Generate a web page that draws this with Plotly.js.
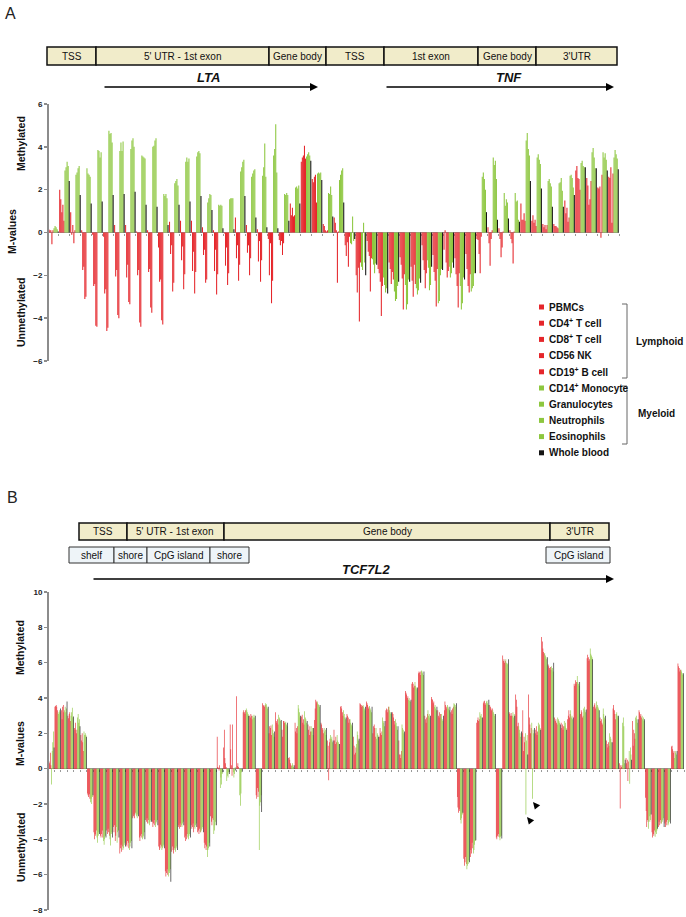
<!DOCTYPE html>
<html><head><meta charset="utf-8">
<script src="https://cdn.plot.ly/plotly-3.0.1.min.js"></script>
<style>html,body{margin:0;padding:0;background:#fff}#chart{width:686px;height:917px}</style>
</head><body><div id="chart"></div>
<script>
// ---------- DATA ----------
const cellTypes = ['PBMCs','CD4<sup>+</sup> T cell','CD8<sup>+</sup> T cell','CD56 NK','CD19<sup>+</sup> B cell',
  'CD14<sup>+</sup> Monocyte','Granulocytes','Neutrophils','Eosinophils','Whole blood'];
const lineage = ['L','L','L','L','L','M','M','M','M','W'];
const groupLabels = ['Lymphoid','Myeloid'];

// Panel A: LTA / TNF CpG sites, one row per site, columns in cellTypes order
const ltaSites = [
 [0.15,0.1,0.1,-0.55,0.1,0.2,0.3,0.25,0.15,0.05],
 [2.0,1.55,0.95,1.3,0.55,2.9,3.05,3.3,3.1,2.4],
 [0.95,-0.1,0.35,-0.5,0.1,2.7,2.8,3.0,3.1,1.75],
 [0.1,-1.75,-1.6,-3.1,-3.0,3.0,2.75,2.7,2.6,1.35],
 [-0.1,-2.5,-2.4,-4.35,-4.4,3.85,3.8,3.5,3.75,1.45],
 [-0.2,-2.85,-2.65,-4.6,-4.45,4.75,4.6,4.65,4.2,1.75],
 [0.35,-2.05,-1.75,-3.85,-4.0,3.8,4.2,3.8,4.25,1.8],
 [0.35,-2.1,-1.5,-3.25,-3.35,3.9,4.3,4.4,4.0,1.9],
 [0.05,-2.0,-1.75,-4.2,-4.4,3.6,3.55,3.5,3.45,1.3],
 [0.1,-1.85,-1.7,-3.5,-3.75,4.0,4.05,4.3,4.4,1.2],
 [-0.7,-2.3,-2.2,-4.1,-4.3,1.8,1.7,1.8,1.6,0.35],
 [0.5,-1.0,-0.6,-2.75,-2.35,2.3,2.4,2.5,2.2,1.3],
 [0.55,-1.3,-0.65,-2.65,-1.95,3.3,3.5,3.3,3.45,1.45],
 [0.55,-1.8,-0.9,-2.85,-1.85,3.55,3.75,3.8,3.7,1.7],
 [0.25,-1.05,-0.8,-2.35,-2.2,1.4,1.6,1.8,1.75,1.05],
 [0.1,-1.8,-0.8,-2.9,-1.95,1.3,1.25,1.3,1.25,0.2],
 [-0.05,-1.55,-0.7,-2.45,-1.9,1.55,1.6,1.6,1.6,0.15],
 [0.7,-1.2,-0.6,-2.25,-1.5,2.85,3.05,3.3,3.4,1.7],
 [0.35,-0.95,-0.6,-2.0,-1.2,2.6,2.75,2.9,2.95,0.7],
 [0.15,-1.35,-0.4,-2.3,-1.3,2.65,3.05,4.15,2.6,0.25],
 [-0.3,-2.0,-0.5,-3.3,-2.25,3.6,3.9,5.05,2.8,0.2],
 [-0.35,-0.6,-0.4,-1.05,-0.5,1.8,1.75,1.85,1.75,0.55],
 [1.35,0.8,1.15,0.75,0.8,2.1,2.15,2.05,2.2,1.35],
 [3.3,3.5,3.6,4.05,3.45,3.55,3.65,3.75,3.6,3.35],
 [2.5,2.35,2.6,2.7,1.4,2.75,2.8,2.75,2.8,2.45],
 [0.4,0.3,0.1,0.05,0.1,1.85,1.8,2.15,1.75,0.75]
];
const tnfSites = [
 [0.7,0.45,0.1,-2.35,0.05,2.45,2.7,2.9,3.0,1.4],
 [-0.6,-1.1,-0.45,-1.6,-0.2,-0.5,-0.55,0.75,-0.4,-0.3],
 [-2.0,-2.8,-1.65,-4.15,-1.4,-1.6,-1.75,0.45,-1.4,-2.0],
 [-0.4,-0.9,-1.1,-2.75,-1.2,-1.25,-1.5,-1.9,-1.45,-1.5],
 [-1.7,-1.9,-2.3,-3.9,-2.5,-2.1,-2.45,-2.8,-2.6,-2.85],
 [-1.4,-1.7,-2.4,-1.85,-2.2,-2.75,-3.2,-3.1,-2.5,-2.3],
 [-1.15,-1.5,-2.15,-3.6,-1.95,-2.45,-3.6,-3.35,-2.2,-2.3],
 [-1.6,-2.25,-3.0,-1.5,-2.4,-2.6,-2.9,-2.7,-2.15,-2.35],
 [-0.6,-1.3,-1.75,-2.6,-1.9,-1.3,-1.65,-2.7,-2.45,-1.6],
 [-1.05,-1.85,-2.25,-3.45,-1.7,-3.3,-3.2,-2.0,-1.7,-1.75],
 [-0.8,0.1,-1.4,-2.1,-1.8,-1.6,-2.1,-1.9,-1.4,-1.65],
 [-1.2,-1.95,-2.5,-3.5,-1.9,-2.5,-3.6,-3.3,-2.1,-2.2],
 [-1.0,-1.7,-2.5,-2.8,-1.95,-2.75,-2.6,-2.5,-1.9,-1.9],
 [-0.3,-0.35,-1.0,-1.9,-0.2,2.6,2.8,2.5,2.0,0.95],
 [0.25,-0.5,-1.55,-0.3,0.1,3.5,3.15,3.35,2.5,0.6],
 [0.2,-0.3,-1.15,-0.7,0.05,1.85,1.25,1.55,1.4,0.65],
 [0.1,-0.3,-0.5,-1.45,0.05,1.85,1.45,1.5,0.6,0.5],
 [1.35,0.6,0.6,0.9,0.55,4.3,4.65,3.9,3.6,2.4],
 [0.55,0.8,0.45,0.6,0.3,3.5,3.65,3.4,3.2,2.05],
 [0.4,0.25,0.35,0.15,0.35,2.4,2.5,2.3,2.15,1.2],
 [0.4,0.3,0.3,0.25,0.2,2.3,2.35,2.55,1.95,1.2],
 [1.5,0.9,1.15,0.5,0.7,2.65,2.7,2.55,2.1,1.75],
 [2.9,3.1,2.55,2.5,2.0,3.25,3.35,3.1,3.05,3.05],
 [2.55,2.2,1.3,1.55,2.4,3.75,3.95,3.5,3.0,3.0],
 [2.1,2.05,2.15,-0.25,2.7,3.75,3.5,3.7,3.4,2.9],
 [2.6,2.55,3.05,0.45,2.75,3.5,3.85,3.65,3.45,2.95]
];

// Panel B: TCF7L2 CpG sites
const tcfPromoter = [
 [1.15,0.4,0.3,0.9,0.2,-0.9,1.0,1.5,2.1,1.2],
 [3.5,3.55,3.6,3.5,3.3,3.2,3.1,3.3,3.2,3.4],
 [3.3,2.8,3.5,3.6,3.2,3.3,3.5,3.2,3.4,3.8],
 [3.0,2.85,3.1,3.2,2.7,3.0,3.2,3.45,2.9,2.95],
 [2.3,2.2,2.6,2.0,2.2,2.9,3.1,2.6,2.8,2.4],
 [1.9,1.6,2.0,1.5,1.0,2.1,1.9,2.0,1.9,1.8],
 [-1.4,-1.5,-1.6,-1.45,-1.7,-1.9,-1.7,-2.0,-1.6,-1.5],
 [-3.6,-4.0,-3.7,-3.8,-3.5,-3.9,-4.2,-3.8,-3.6,-3.7],
 [-3.8,-3.9,-3.7,-3.5,-3.9,-4.1,-4.3,-4.0,-3.8,-3.9],
 [-3.5,-3.7,-3.4,-3.6,-3.8,-4.0,-4.35,-3.7,-3.6,-3.9],
 [-3.3,-3.6,-3.2,-4.1,-3.8,-3.3,-4.2,-3.6,-3.5,-3.9],
 [-4.8,-4.5,-4.3,-4.7,-4.4,-4.6,-4.5,-4.3,-4.2,-4.4],
 [-4.3,-4.4,-4.1,-4.2,-4.5,-4.6,-4.4,-4.2,-4.1,-4.5],
 [-2.8,-2.7,-2.6,-2.8,-2.5,-2.6,-2.7,-2.8,-2.6,-2.7],
 [-3.9,-4.1,-3.8,-3.9,-3.7,-4.0,-3.9,-3.8,-3.6,-4.0],
 [-2.9,-3.0,-2.8,-3.1,-2.9,-3.1,-3.2,-3.0,-2.9,-3.0],
 [-3.0,-3.3,-3.1,-2.9,-3.2,-3.3,-3.1,-3.0,-2.9,-3.2],
 [-4.4,-4.6,-4.5,-4.3,-4.4,-4.6,-4.5,-4.4,-4.3,-4.5],
 [-5.8,-6.1,-5.9,-5.7,-6.0,-6.1,-5.8,-5.9,-5.7,-6.4],
 [-4.7,-4.4,-4.6,-4.8,-4.5,-4.6,-4.7,-4.5,-4.4,-4.6],
 [-3.3,-3.2,-3.4,-3.1,-3.3,-3.2,-3.3,-3.1,-3.0,-3.2],
 [-3.9,-4.1,-3.8,-4.0,-3.7,-3.9,-4.0,-3.8,-3.7,-3.9],
 [-3.2,-3.4,-3.3,-3.1,-3.6,-3.3,-3.4,-3.2,-3.1,-3.3],
 [-3.6,-3.5,-3.7,-3.4,-3.6,-3.6,-3.5,-3.4,-3.3,-3.6],
 [-4.2,-4.5,-4.3,-4.6,-4.4,-5.0,-4.6,-4.5,-4.2,-4.4],
 [-2.7,-3.0,-3.2,-2.8,-2.9,-3.7,-3.5,-3.2,-3.0,-3.2],
 [1.8,0.1,0.05,-0.1,0.2,-1.1,-0.5,-0.9,-0.3,-0.2],
 [1.2,2.2,0.6,0.3,0.1,-0.7,-0.4,-0.5,-0.2,-0.3],
 [2.5,1.1,0.2,-0.4,2.5,-0.2,-0.5,-0.3,0.1,-0.1],
 [4.1,0.15,0.3,0.1,0.0,-1.5,-2.1,-1.4,-0.2,-0.1],
 [3.2,3.3,3.2,3.1,3.3,3.4,3.3,3.2,3.1,3.0],
 [3.0,2.9,3.1,3.0,2.8,3.0,2.9,3.05,2.9,3.0],
 [-1.5,-1.7,-1.1,-1.6,-1.3,-4.6,-2.1,-1.9,-1.5,-2.45]
];
const tcfBody = [
 [3.7,3.6,3.55,3.5,3.6,3.7,3.65,3.5,3.4,3.5],
 [2.0,2.4,2.3,2.45,1.9,2.5,2.2,2.0,1.8,2.1],
 [3.2,2.7,2.6,2.8,2.5,3.05,2.9,2.8,2.7,2.75],
 [2.2,1.8,2.7,2.7,2.6,2.6,2.65,2.5,2.4,2.6],
 [0.6,0.65,0.5,0.3,0.2,0.15,0.3,0.2,0.1,0.2],
 [2.6,2.1,2.3,2.0,2.4,3.6,3.4,3.2,2.9,3.0],
 [2.95,3.05,2.6,2.8,2.5,3.25,2.9,2.8,2.6,2.7],
 [2.5,2.2,1.9,2.4,2.1,2.4,2.1,2.3,1.9,2.3],
 [2.75,3.4,3.9,3.8,3.7,3.8,3.65,3.6,3.5,3.6],
 [2.6,2.5,2.3,2.2,2.0,2.3,2.1,2.2,1.9,2.3],
 [1.6,1.3,-0.65,1.5,1.7,1.9,1.7,1.8,1.5,1.6],
 [2.2,1.6,1.4,1.8,1.5,1.9,1.6,1.5,1.4,1.4],
 [3.5,3.55,3.4,3.2,3.0,3.3,3.1,2.9,2.8,2.9],
 [3.1,3.0,2.9,2.6,2.8,2.8,2.6,2.5,2.4,2.6],
 [1.8,1.3,0.8,0.9,1.2,1.4,2.1,1.9,1.6,1.7],
 [3.7,3.65,3.6,3.5,3.55,3.6,3.5,3.4,3.3,3.5],
 [3.8,3.7,3.6,3.4,3.5,3.55,3.4,3.3,3.2,3.5],
 [2.0,2.4,2.5,2.3,1.8,2.3,1.7,2.0,1.9,1.8],
 [1.8,2.3,2.0,1.9,2.1,2.9,2.7,2.6,2.4,2.7],
 [3.3,3.4,3.35,3.2,3.5,3.5,3.3,3.2,3.1,3.2],
 [3.2,3.1,2.9,2.7,2.5,2.8,2.6,2.4,2.2,2.4],
 [1.6,0.8,0.8,0.6,1.0,2.5,2.3,2.2,2.0,2.1],
 [4.4,4.3,4.2,4.0,4.1,3.9,4.0,3.85,3.8,3.9],
 [4.8,4.9,4.8,4.6,4.7,4.9,4.7,4.6,4.5,4.6],
 [5.4,5.5,5.45,5.3,5.5,5.55,5.5,5.4,5.3,5.5],
 [3.0,2.8,2.6,2.9,3.1,3.3,3.0,3.1,2.9,3.0],
 [4.05,3.95,3.9,3.7,3.8,3.5,3.6,3.4,3.3,3.5],
 [3.3,3.0,2.9,3.2,3.1,2.9,3.1,2.8,2.7,3.0],
 [3.3,3.8,3.6,3.5,3.4,3.6,3.5,3.4,3.3,3.5],
 [3.2,3.3,3.1,3.4,3.5,3.7,3.65,3.6,3.5,3.7],
 [-1.6,-2.2,-2.5,-2.3,-2.4,-2.9,-3.1,-2.8,-2.6,-2.5],
 [-5.1,-5.5,-5.3,-5.0,-5.4,-5.7,-5.5,-5.4,-5.2,-5.3]
];
const tcfEnd = [
 [-5.0,-4.6,-4.8,-4.2,-4.5,-4.8,-4.6,-4.3,-4.1,-4.05],
 [2.6,2.75,2.9,2.7,2.8,3.2,3.0,3.1,2.9,2.9],
 [3.7,3.8,3.85,3.6,3.7,3.8,3.85,3.7,3.6,3.9],
 [3.6,3.5,3.4,3.3,3.4,3.3,3.2,3.1,3.0,3.1],
 [-3.9,-4.0,-3.8,-3.85,-3.7,-3.9,-4.05,-3.85,-3.8,-3.95],
 [6.4,6.1,6.2,6.0,6.1,6.2,6.0,5.9,5.95,6.2],
 [3.2,3.1,3.0,3.15,3.0,3.0,3.2,2.9,3.1,3.0],
 [4.2,3.9,3.5,2.4,2.6,2.4,2.2,2.0,1.8,2.1],
 [2.0,3.3,1.0,1.8,1.5,2.0,-2.6,1.6,1.9,0.8],
 [4.2,2.9,2.5,2.0,2.3,2.6,-1.7,2.2,2.0,2.3],
 [2.2,2.0,2.4,1.9,2.1,2.6,2.4,2.5,2.3,2.2],
 [7.45,7.2,6.8,6.6,6.5,6.55,6.4,6.3,6.2,6.3],
 [5.9,5.8,5.7,5.6,5.75,5.8,5.6,5.7,5.5,6.0],
 [2.9,2.7,2.8,2.6,2.5,2.9,2.8,2.7,2.6,2.5],
 [2.6,2.3,2.5,2.2,2.4,2.7,2.4,2.6,2.3,2.2],
 [2.8,3.0,3.3,2.9,3.1,3.3,2.9,3.0,2.8,2.9],
 [4.8,4.7,5.0,4.8,4.9,5.25,4.9,4.8,4.7,4.9],
 [3.1,3.3,3.2,2.9,3.0,3.4,3.5,3.3,3.2,3.35],
 [6.25,6.45,6.3,6.1,6.2,6.8,6.5,6.4,6.3,6.2],
 [3.5,3.6,3.7,3.4,3.5,3.8,3.6,3.5,3.4,3.3],
 [2.9,2.7,2.8,2.6,2.5,3.4,3.1,2.9,2.8,3.0],
 [1.6,1.4,1.2,1.5,1.3,2.0,1.8,1.7,1.5,1.5],
 [3.4,3.6,3.3,3.1,2.8,3.1,3.2,3.0,2.9,3.0],
 [0.3,-2.25,0.2,0.1,0.2,2.6,2.9,2.4,0.3,0.5],
 [0.6,0.3,0.5,-0.7,0.4,1.0,-0.85,1.2,0.8,0.5],
 [2.7,1.3,2.2,2.0,1.7,2.9,3.0,2.8,2.6,2.8],
 [3.3,3.2,3.0,3.1,2.9,3.0,2.8,2.9,2.7,2.8],
 [-1.65,-2.4,-3.3,-2.9,-3.0,-3.4,-2.7,-3.0,-2.9,-2.6],
 [-3.6,-3.9,-3.7,-3.8,-3.5,-3.85,-3.6,-3.7,-3.5,-3.4],
 [-3.3,-3.0,-3.2,-2.9,-3.1,-3.1,-3.0,-2.9,-2.8,-3.3],
 [-3.1,-3.3,-3.0,-3.2,-2.9,-3.2,-3.1,-3.0,-2.9,-3.1],
 [1.25,1.3,1.1,0.9,1.0,0.6,1.0,0.9,0.8,1.0],
 [5.95,5.8,5.7,5.5,5.6,5.6,5.5,5.4,5.3,5.4]
];

const yTicksA = [-6,-4,-2,0,2,4,6];
const yTicksB = [-8,-6,-4,-2,0,2,4,6,8,10];
const regionsA = ['TSS',"5' UTR - 1st exon",'Gene body','TSS','1st exon','Gene body',"3'UTR"];
const regionsB = ['TSS',"5' UTR - 1st exon",'Gene body',"3'UTR"];
const cpgB = ['shelf','shore','CpG island','shore','CpG island'];
const genesA = ['LTA','TNF'];
const geneB = 'TCF7L2';

// ---------- LAYOUT / STYLE ----------
const W = 686, H = 917;
const px = x => x / W, py = y => 1 - y / H;
const COL = {L:'#e5262b', M:'#8dc73f', W:'#141414'};
const FONT = 'Liberation Sans, Arial, sans-serif';
const NARROW = 'Liberation Sans Narrow, Liberation Sans, Arial, sans-serif';

const siteA = ltaSites.concat(tnfSites);
const siteB = tcfPromoter.concat(tcfBody, tcfEnd);

const traces = [];
cellTypes.forEach((name, i) => {
  traces.push({type:'bar', name, x: siteA.map((_, k) => k), y: siteA.map(r => r[i]),
    xaxis:'x', yaxis:'y', showlegend:false, hoverinfo:'skip',
    marker:{color: COL[lineage[i]], line:{width:0}}});
});
cellTypes.forEach((name, i) => {
  traces.push({type:'bar', name, x: siteB.map((_, k) => k), y: siteB.map(r => r[i]),
    xaxis:'x2', yaxis:'y2', showlegend:false, hoverinfo:'skip',
    marker:{color: COL[lineage[i]], line:{width:0}}});
});

const yDomA = [py(361), py(104)], yDomB = [py(910), py(592)];
const rangeA = [-6, 6], rangeB = [-8, 10];
const zeroPos = (d, r) => d[0] + (0 - r[0]) / (r[1] - r[0]) * (d[1] - d[0]);

const axisGrey = '#8c8c8c';
const yAxisCommon = {showline:true, linecolor:axisGrey, linewidth:2, ticks:'outside', ticklen:3,
  tickwidth:1.5, tickcolor:axisGrey, showgrid:false, zeroline:true, zerolinecolor:'#9a9a9a',
  zerolinewidth:1.5, tickfont:{family:FONT, size:8, weight:'bold', color:'#222'}, fixedrange:true};
const xAxisCommon = {showgrid:false, zeroline:false, showline:false, ticks:'outside', ticklen:2,
  tickwidth:1, tickcolor:'#9a9a9a', showticklabels:false, tick0:-0.5, dtick:1,
  layer:'below traces', anchor:'free', fixedrange:true};

const shapes = [], annotations = [];
const label = (text, x, y, opt={}) => annotations.push(Object.assign({xref:'paper', yref:'paper',
  x:px(x), y:py(y), text, showarrow:false, xanchor:'center', yanchor:'middle',
  font:{family:FONT, size:10, color:'#111'}}, opt));
const rect = (x0, x1, y0, y1, fill, lc, lw) => shapes.push({type:'rect', xref:'paper', yref:'paper',
  x0:px(x0), x1:px(x1), y0:py(y1), y1:py(y0), fillcolor:fill, line:{color:lc, width:lw}});

// panel letters
label('A', 10, 13, {font:{family:FONT, size:16, color:'#222'}});
label('B', 12, 497, {font:{family:FONT, size:16, color:'#222'}});

// Panel A region boxes
const bA = [47, 96, 269, 326, 384, 478, 536, 617];
regionsA.forEach((t, i) => {
  rect(bA[i], bA[i+1], 47, 65, '#f1ecca', '#111', 1.5);
  label(t, (bA[i] + bA[i+1]) / 2, 56.5, {font:{family:NARROW, size:10, color:'#111'}});
});
// Panel B region boxes
const bB = [79, 127, 224, 550, 609];
regionsB.forEach((t, i) => {
  rect(bB[i], bB[i+1], 523, 540, '#f1ecca', '#111', 1.5);
  label(t, (bB[i] + bB[i+1]) / 2, 531.5, {font:{family:NARROW, size:10, color:'#111'}});
});
const cB = [[69,114],[114,147],[147,210],[210,249],[546,610]];
cpgB.forEach((t, i) => {
  rect(cB[i][0], cB[i][1], 547, 563, '#eef4f8', '#333', 1);
  label(t, (cB[i][0] + cB[i][1]) / 2, 555, {font:{family:NARROW, size:10, color:'#111'}});
});

// gene arrows
const arrow = (x0, x1, y) => annotations.push({xref:'paper', yref:'paper', x:px(x1), y:py(y),
  ax:x0 - x1, ay:0, axref:'pixel', ayref:'pixel', text:'', showarrow:true,
  arrowhead:2, arrowsize:1, arrowwidth:1.6, arrowcolor:'#000'});
const geneFont = {family:FONT, size:13, weight:'bold', style:'italic', color:'#111'};
arrow(103, 318, 87); label(genesA[0], 208, 77, {font:geneFont});
arrow(385, 614, 87); label(genesA[1], 509, 77, {font:geneFont});
arrow(92, 614, 579); label(geneB, 366, 569, {font:geneFont});

// small arrowheads in panel B
[[533, 802], [527, 817]].forEach(([x, y]) => annotations.push({xref:'paper', yref:'paper',
  x:px(x), y:py(y), ax:5, ay:6, axref:'pixel', ayref:'pixel', text:'', showarrow:true,
  arrowhead:2, arrowsize:1.4, arrowwidth:1, arrowcolor:'#000', standoff:0}));

// y-axis titles
const yt = {family:FONT, size:10.5, weight:'bold', color:'#111'};
label('Methylated', 21, 144, {textangle:-90, font:yt});
label('M-values', 12, 232, {textangle:-90, font:yt});
label('Unmethylated', 21, 313, {textangle:-90, font:yt});
label('Methylated', 20, 648, {textangle:-90, font:yt});
label('M-values', 20, 744, {textangle:-90, font:yt});
label('Unmethylated', 21, 848, {textangle:-90, font:yt});

// legend
const lf = {family:FONT, size:10, weight:'bold', color:'#111'};
cellTypes.forEach((t, i) => {
  const y = 307 + 16.2 * i;
  rect(539, 544, y - 2.5, y + 2.5, COL[lineage[i]], COL[lineage[i]], 0);
  label(t, 547, y, {xanchor:'left', font:lf});
});
const bracket = (y0, y1) => shapes.push({type:'path', xref:'paper', yref:'paper',
  path:`M ${px(622)} ${py(y0)} L ${px(627)} ${py(y0)} L ${px(627)} ${py(y1)} L ${px(622)} ${py(y1)}`,
  line:{color:'#666', width:1}});
bracket(304, 378); bracket(386, 444);
label(groupLabels[0], 634, 341, {xanchor:'left', font:lf});
label(groupLabels[1], 636, 413, {xanchor:'left', font:lf});

const layout = {
  width:W, height:H, autosize:false, margin:{l:0, r:0, t:0, b:0},
  paper_bgcolor:'#fff', plot_bgcolor:'rgba(0,0,0,0)',
  barmode:'group', bargap:0.04, bargroupgap:0, showlegend:false,
  xaxis: Object.assign({}, xAxisCommon, {domain:[px(48), px(619)], range:[-0.5, siteA.length - 0.5],
    position: zeroPos(yDomA, rangeA)}),
  yaxis: Object.assign({}, yAxisCommon, {domain:yDomA, range:rangeA, tickvals:yTicksA,
    anchor:'free', position:px(48)}),
  xaxis2: Object.assign({}, xAxisCommon, {domain:[px(48), px(684)], range:[-0.5, siteB.length - 0.5],
    position: zeroPos(yDomB, rangeB)}),
  yaxis2: Object.assign({}, yAxisCommon, {domain:yDomB, range:rangeB, tickvals:yTicksB,
    anchor:'free', position:px(48)}),
  shapes, annotations
};
Plotly.newPlot('chart', traces, layout, {displayModeBar:false, staticPlot:true});
</script>
</body></html>
